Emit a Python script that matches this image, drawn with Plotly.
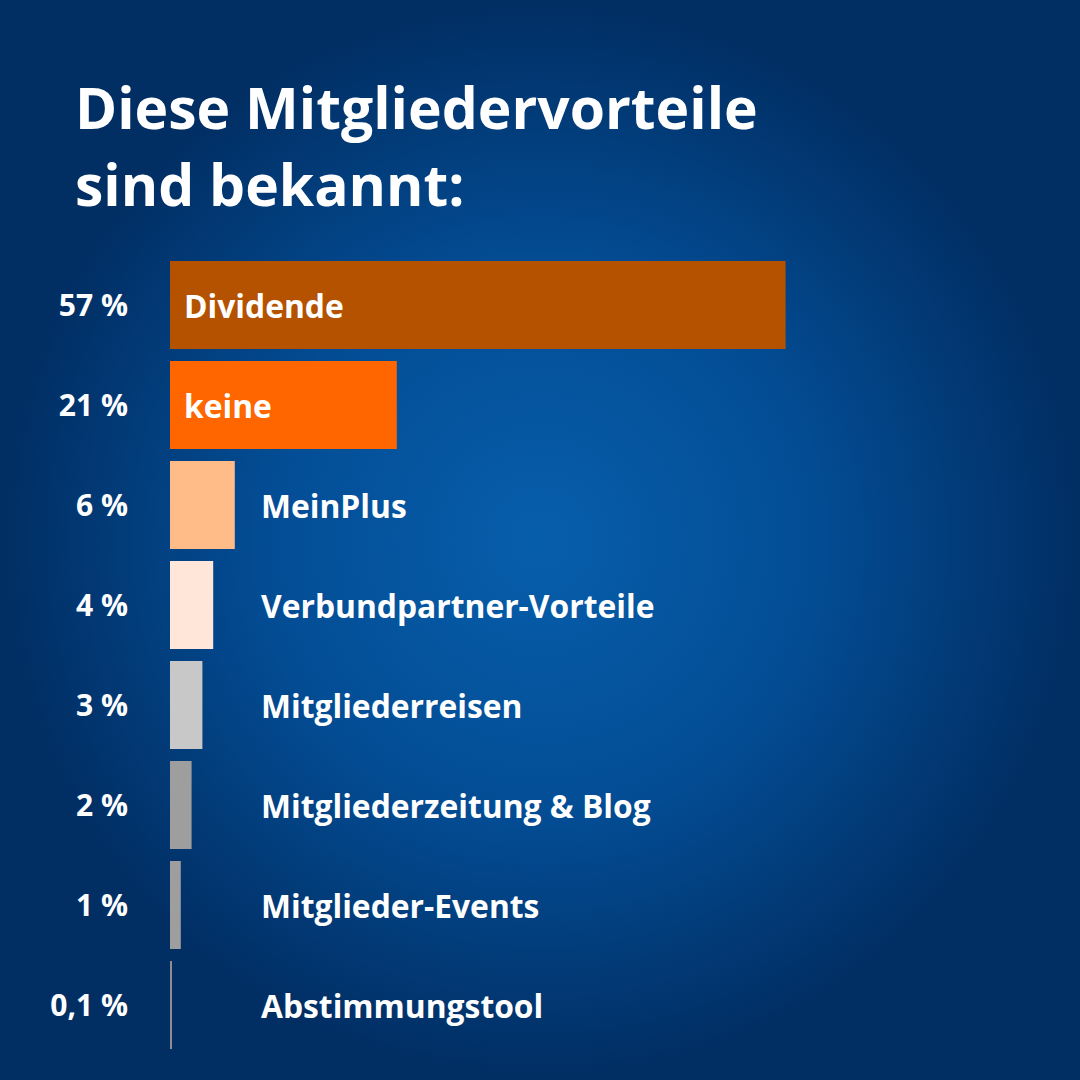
import plotly.graph_objects as go

W, H = 1080, 1080
FONT = "Open Sans"

title_lines = ["Diese Mitgliedervorteile", "sind bekannt:"]
categories = ["Dividende", "keine", "MeinPlus", "Verbundpartner-Vorteile",
              "Mitgliederreisen", "Mitgliederzeitung & Blog", "Mitglieder-Events",
              "Abstimmungstool"]
values = [57, 21, 6, 4, 3, 2, 1, 0.1]
value_labels = ["57 %", "21 %", "6 %", "4 %", "3 %", "2 %", "1 %", "0,1 %"]
bar_colors = ["#B45200", "#FF6600", "#FFBB88", "#FFE6D8",
              "#C8C8C8", "#9E9E9E", "#9E9E9E", "#8E8E8E"]
inside_label = [True, True, False, False, False, False, False, False]

# pixel layout
x0_px = 170          # left edge of the bars
px_per_pct = 10.8
xmax = (W - x0_px) / px_per_pct

fig = go.Figure()

# background: radial gradient over the whole canvas
fig.add_trace(go.Scatter(
    x=[0, 1, 1, 0, 0], y=[0, 0, 1, 1, 0], mode="lines", fill="toself",
    line=dict(width=0),
    fillgradient=dict(type="radial",
                      colorscale=[[0, "#075EAB"], [0.5, "#034D95"], [1, "#012E63"]]),
    hoverinfo="skip", showlegend=False, xaxis="x", yaxis="y"))

fig.add_trace(go.Bar(
    x=values, y=categories, orientation="h",
    marker=dict(color=bar_colors, line=dict(width=0)),
    width=0.88, hoverinfo="skip", showlegend=False,
    xaxis="x2", yaxis="y2"))

for cat, inside in zip(categories, inside_label):
    off = 12 if inside else 89
    fig.add_annotation(
        x=off / px_per_pct, y=cat, xref="x2", yref="y2",
        text="<b>%s</b>" % cat, showarrow=False, xanchor="left", yanchor="middle",
        font=dict(family=FONT, size=31.8, color="white"))

# title, one annotation per line to control line spacing
for i, line in enumerate(title_lines):
    fig.add_annotation(
        x=73 / W, y=1 - (66 + 77 * i) / H, xref="paper", yref="paper",
        text="<b>%s</b>" % line,
        showarrow=False, xanchor="left", yanchor="top", align="left",
        font=dict(family=FONT, size=57, color="white"))

fig.update_layout(
    width=W, height=H,
    margin=dict(l=0, r=0, t=0, b=0),
    paper_bgcolor="#012E63", plot_bgcolor="rgba(0,0,0,0)",
    font=dict(family=FONT, color="white"),
    xaxis=dict(domain=[0, 1], range=[0, 1], visible=False, fixedrange=True),
    yaxis=dict(domain=[0, 1], range=[0, 1], visible=False, fixedrange=True),
    xaxis2=dict(domain=[x0_px / W, 1], range=[0, xmax], visible=False,
                anchor="y2", fixedrange=True),
    yaxis2=dict(domain=[25 / H, 825 / H], range=[7.5, -0.5], anchor="x2",
                showgrid=False, zeroline=False, showline=False,
                tickmode="array", tickvals=categories, ticktext=value_labels,
                ticks="outside", ticklen=35, tickcolor="rgba(0,0,0,0)",
                tickfont=dict(family=FONT, size=30, color="white", weight="bold"),
                fixedrange=True),
)

fig.write_html("out.html", config={"displayModeBar": False},
               post_script="document.body.style.margin='0';document.body.style.overflow='hidden';")
